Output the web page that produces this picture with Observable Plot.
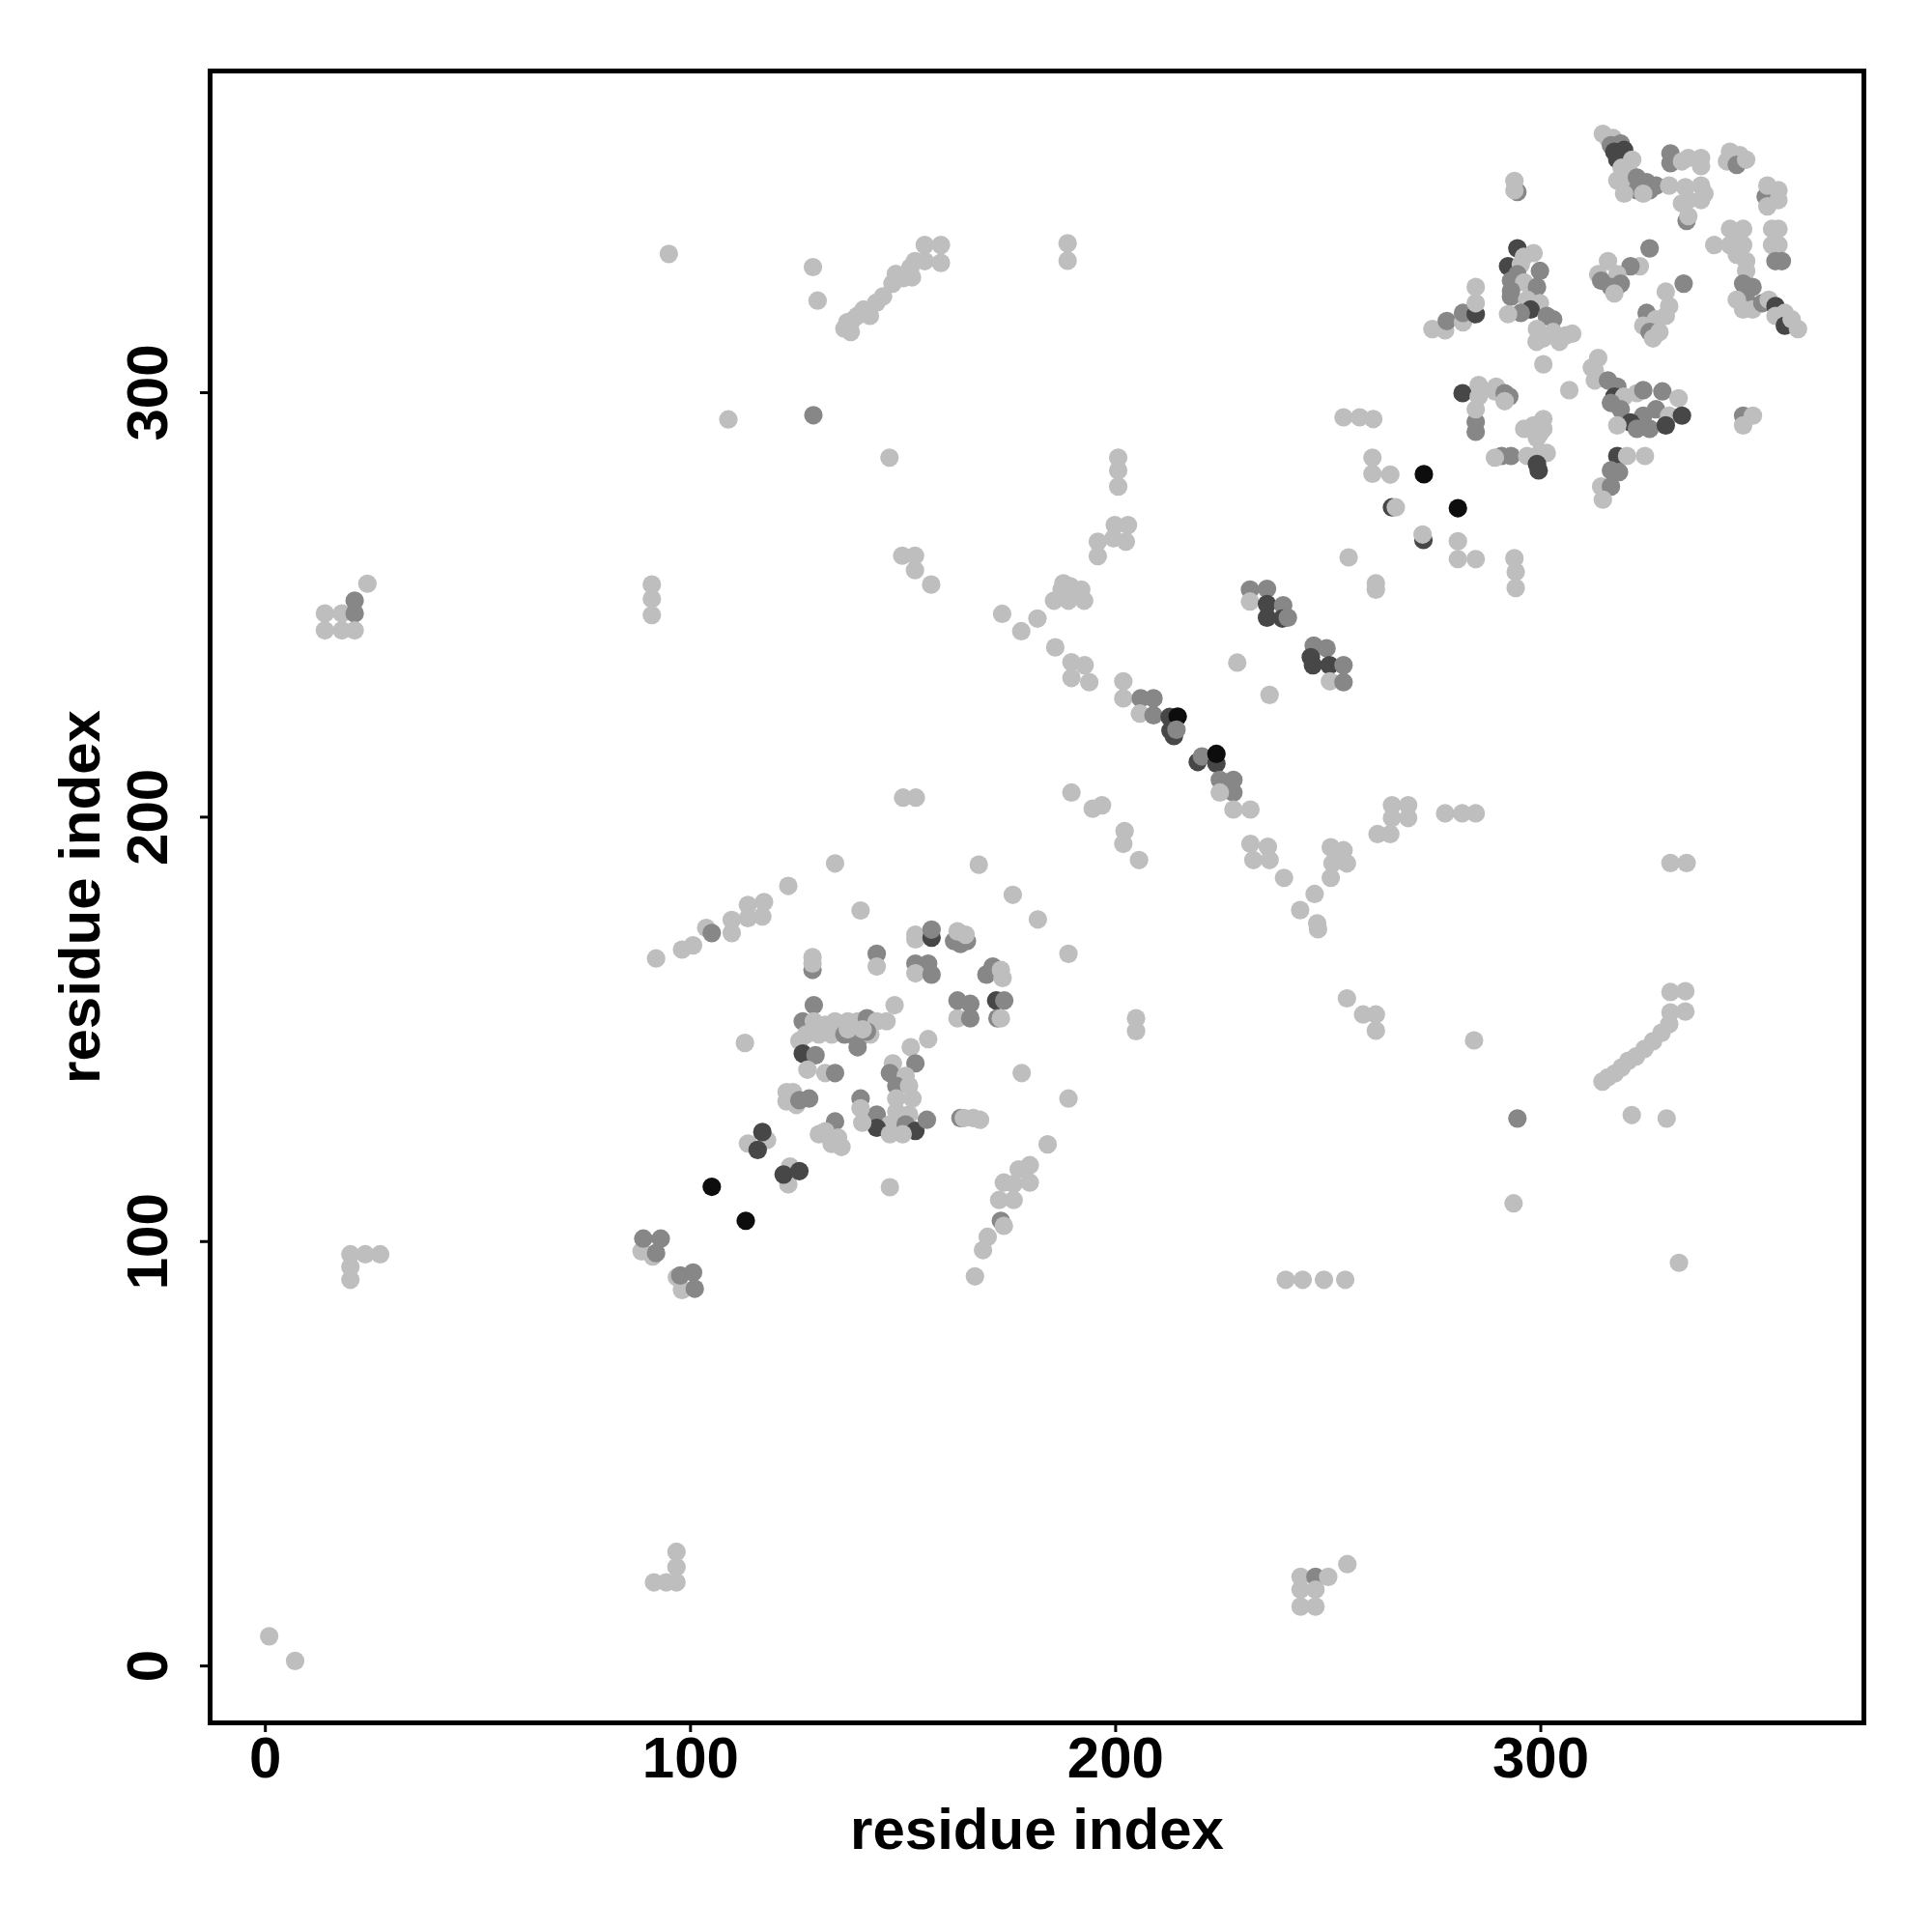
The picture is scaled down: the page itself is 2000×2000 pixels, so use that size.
<!DOCTYPE html>
<html><head><meta charset="utf-8">
<script src="https://cdn.jsdelivr.net/npm/d3@7"></script>
<script src="https://cdn.jsdelivr.net/npm/@observablehq/plot@0.6"></script>
<style>body{margin:0;background:#fff}</style>
</head><body><div id="chart"></div>
<script>
// [residue i, residue j, contact level (1 light .. 4 black)]
const contactsLeft = [
[0.9,7,1],[7,1.2,1],
[14,248,1],[18,248,1],[21,248,2],[14,244,1],[18,244,1],[21,244,1],[21,251,2],[24,255,1],
[20,97,1],[23.5,97,1],[27,97,1],[20,94,1],[20,91,1]
];
const contactsBand90 = [
[91.4,19.7,1],[94.3,19.7,1],[96.7,19.7,1],[96.7,23.3,1],[96.7,26.9,1],
[88.5,97.7,1],[91.1,96.5,1],[88.9,100.7,2],[93,100.7,2],[91.9,97.3,2],
[96.8,91.6,1],[98,88.6,1],[97.6,92,2],[100.6,92.7,2],[101,88.9,2],
[90.9,254.8,1],[90.9,251.4,1],[90.9,247.6,1],
[94.9,332.7,1],[108.9,293.7,1]
];
const contactsLowerCluster = [
[105,112.9,4],[113,104.9,4],
[113.5,123.1,1],[118,123.9,1],[116.9,125.8,3],[115.8,121.6,3],
[123.4,117.7,1],[123,113.5,1],[121.9,115.8,3],[125.6,116.6,3],
[91.9,166.7,1],[98,168.8,1],[100.6,169.8,1],[103.7,173.9,1],[105,172.7,2],[109.7,172.7,1],[109.7,175.8,1],[113.5,176.2,1],[113.5,179.3,1],[116.9,176.6,1],[117.3,180,1],[123,183.8,1],[134,189.1,1],[140,178,1],[112.8,146.8,1],
[128.7,164,2],[128.7,167,1],[128.7,165.5,1],
[143.8,167.8,2],[143.8,164.8,1],
[152.9,172.3,1],[152.9,171.2,1],[156.7,171.6,3],[156.7,173.5,2],
[162,170.8,2],[165,170.8,2],[163.5,170.1,2],[162.8,173.1,1],[164.7,172.3,1],
[152.9,165.5,2],[155.9,165.5,2],[152.9,163.2,1],[156.7,162.9,2],
[169.6,162.9,2],[171.1,164.8,2],[173,164,1],[173.4,162.1,1],
[162.8,152.6,1],[162.8,156.8,2],[165.8,156,2],[165.8,152.6,2],
[171.9,156.8,3],[173.8,156.8,2],[172.2,152.6,2],[173,152.6,1],
[148,155.7,1],[155.9,147.7,1],[151.8,145.8,1],
[129,155.7,2],[126.4,151.9,2],[129,151.9,1],[131.7,151.1,1],[134,151.9,1],[137,151.9,1],[139.3,151.9,1],[141.5,152.6,2],[143.8,151.9,1],[146.1,151.9,1],
[125.6,147.3,1],[127.2,148.8,1],[130.2,148.8,1],[133.2,148.8,1],[136.2,148.8,2],[139.3,147.3,2],[142.3,148.8,1],[139.3,145.8,2],[141.5,149.5,2],[140.5,150,1],[137,150,1],
[126.4,144.3,3],[129.4,143.9,2],[127.5,140.5,1],[131.7,139.7,1],[134,139.7,2],
[152.9,142,2],[147.6,142,1],[146.9,139.7,2],[150.6,139,1],[148.4,136.7,2],[151.4,136.7,1],[152.2,133.7,1],[148.4,133.7,1],[148.4,130.6,1],[151.4,129.9,1],
[143.8,129.9,2],[146.9,127.6,1],[143.8,126.8,3],[150.6,127.6,2],[152.9,126.1,3],[155.6,128.7,2],[149.9,125.3,1],[146.9,125.3,1],[140.4,128,1],[140,133.7,2],[140,131.4,1],
[124.1,135.2,1],[122.6,135.2,1],[122.6,133,1],[124.9,132.2,1],[127.9,133.7,2],[125.6,133.3,2],
[134,128.3,2],[131.7,126,1],[134.7,124.5,1],[135.5,122.3,1],[133.2,123,1],[130.2,125.3,1],
[163.5,129.1,2],[164.3,129.1,1],[166.5,129.1,1],[168.1,128.7,1],
[146.9,112.8,1],[177.9,139.7,1],[188.9,133.7,1],[204.8,152.6,1],[204.8,149.6,1],
[167.8,188.8,1],[175.8,181.7,1],[181.7,175.9,1],[188.9,167.8,1],[184,122.9,1],
[179.8,118,1],[177.2,117,1],[179.8,113.9,1],[176,113.6,1],[173.7,113.9,1],[172.6,109.8,1],[176,109.8,1],[173,104.9,2],[173.7,103.7,1],[169.9,101.1,1],[168.8,98,1],[166.9,91.8,1]
];
const contactsCentral = [
[195.8,264.9,1],[199.5,265.7,1],[202.4,264.9,1],[195.8,261.5,1],[199.8,268.8,1],[202.9,268.8,1],
[200.6,284.7,1],[200.6,281.7,1],[200.6,277.9,1],
[149.8,261.6,1],[152.8,261.6,1],[152.8,258.2,1],[156.6,254.8,1],
[128.8,329.6,1],[129.9,321.7,1],[128.9,294.7,2],[146.8,284.7,1],
[136.2,315.1,1],[136.9,316.6,1],[137.7,314.3,1],[138,317,1],[139.2,318.1,1],[140.7,319.6,1],[142.2,318.1,1],[143.7,321.2,1],[145.3,322.7,1],[147.5,325.7,1],[148.3,328,1],[150,327,1],[151.7,329.5,1],[152.1,327.2,1],[152.8,331,1],[155.1,334.8,1],[155.1,331,1],[158.9,334.8,1],[158.9,330.6,1],
[188.7,335.2,1],[188.7,331.1,1],
[187.7,255.1,1],[189.3,254.4,1],[191.9,253.6,1],[185.5,251,1],[188.9,251,1],[192.6,251,1],[187.3,253.6,1],
[173.3,247.9,1],[177.8,243.8,1],[181.6,246.8,1],[185.8,240,1],
[189.6,236.5,1],[192.7,235.8,1],[189.6,232.8,1],[193.8,231.8,1],
[201.8,232,1],[201.8,228,1],[205.9,228,2],[208.9,228,2],[205.7,224.4,1],[208.9,224,2],[212.7,223.6,3],[214.6,223.7,4],[212.9,220.4,3],[213.7,219.1,3],[214.3,220.6,2],
[219.3,213,3],[220.3,214.3,2],[223.7,212.6,3],[223.7,214.9,4],[224.5,208.8,2],[227.7,208.8,2],[227.7,205.8,2],[224.5,205.8,1],[227.7,201.8,1],[231.7,201.8,1],
[228.6,236.4,1],[236.2,228.8,1],
[231.6,253.6,2],[235.6,253.8,2],[231.6,250.8,1],[235.6,250.2,3],[239.4,249.9,2],[235.6,247,3],[239.2,246.8,3],[240.5,247,2],
[246.6,240.4,2],[249.6,239.8,2],[245.9,237.7,3],[246.4,235.8,3],[250.3,235.8,3],[253.6,235.8,2],[250.4,232,1],[253.6,231.8,2],
[189.6,205.8,1],[194.6,202,1],[196.8,202.8,1],
[202.1,196.7,1],[201.8,193.7,1],[205.5,189.9,1],
[231.7,193.7,1],[235.8,193,1],[232.4,189.9,1],[236.2,189.9,1],[239.6,185.7,1],
[250.6,192.9,1],[253.6,192.2,1],[254.4,189.1,1],[251,189.1,1],[250.6,185.7,1],
[246.8,181.9,1],[243.4,178.1,1],[247.6,173.6,1],[247.4,175,1],
[254.4,157.3,1],[258.2,153.5,1],[261.2,153.5,1],[261.2,149.7,1],
[284.3,147.4,1],
[150,204.6,1],[153,204.6,1],
[265,202.8,1],[268.8,202.8,1],[265,199.8,1],[268.8,199.8,1],[261.6,196,1],[264.6,196,1],
[277.5,200.9,1],[281.5,200.9,1],[284.7,200.9,1],
[240,91,1],[244,91,1],[249,91,1],[254,91,1],
[243.5,21,1],[243.5,18,1],[243.5,14,1],[247,21,2],[247,18,1],[247,14,1],[250,21,1],[254.5,24,1]
];
const contactsRightLower = [
[293.6,109,1],[294.5,129,2],[321.4,129.8,1],[329.6,129,1],[332.5,95,1],
[330.5,189.2,1],[334.3,189.2,1],
[314.5,137.7,1],[315.8,138.7,1],[317.4,139.6,1],[319,141,1],[320.6,142.6,1],[322.4,143.6,1],[324.4,145.4,1],[326.4,147.2,1],[328.4,149.2,1],[330.2,151.2,1],[330.5,154,1],[334,154.2,1],[330.5,158.8,1],[334,159,1]
];
const contactsUpperMid = [
[253.6,294.2,1],[257.4,294.2,1],[260.6,293.8,1],
[260.4,284.7,1],[260.4,280.9,1],[264.6,280.7,1],[272.5,280.8,4],
[265,273,3],[265.9,273,1],[280.5,272.8,4],
[272.4,265.3,3],[272.2,266.6,1],
[280.5,265,1],[280.5,260.8,1],[284.7,260.8,1],
[293.8,261,1],[294.1,257.8,1],[294.1,254,1],
[254.8,261.2,1],[261.2,255.1,1],[261.2,253.6,1],
[281.6,299.9,3],[285.4,301.8,1],[285.4,299.1,1],[289.2,300.3,1],[289.5,301.4,1],[291.5,299.9,2],[292.6,299.1,2],[291.5,298,1],
[284.7,293.1,2],[284.7,290.8,2],[284.7,296.1,1],
[290.8,285.1,2],[293,285.1,2],[289.2,284.7,1],[296.8,285.1,1],[299.8,285.8,1],[301.4,285.8,1],[299.1,283.2,3],[299.5,281.7,3],
[298.3,292.3,1],[300.6,291.5,1],[299.1,289.3,1],[296.1,291.5,1],[299.8,290.4,1],[300.6,293.8,1],
[300.6,306.7,1],[306.7,300.6,1],[299,312,1],
[294.5,347.3,2],[293.8,349.9,1],[293.8,347.7,1],
[274.5,315,1],[277.5,314.7,1],[277.9,316.9,2],[281.7,316.6,1],[281.7,318.8,2],[284.7,318.5,3],[284.7,321.1,1],[284.7,324.9,1]
];
const contactsUpperRight = [
[294.5,334,3],[292.3,329.8,3],[298.3,332.9,1],[295.3,330.2,1],[296,332,1],[299.8,328.7,2],[294.5,327.9,2],[293,326.4,2],[296.1,326,1],[299.1,324.9,2],[293,324,2],[293,322.6,2],[296.8,321.9,1],[299.8,321.1,1],[297.6,319.6,3],[295.3,318.8,2],[292.3,318.5,1],[301.4,318.1,2],[302.9,317.3,2],[299.1,315,1],[302.9,314.3,1],[305.9,313.5,1],[307.4,313.9,1],[304.4,312,1],[300.6,312.8,1],
[314.6,361,1],[315.8,359.8,1],[317,360,1],[316.5,358.3,2],[318.8,358.7,2],[317.3,356.8,3],[318,355,3],[319.6,357.2,3],[321.5,354.9,1],[319,353,1],
[330.5,356.4,2],[330.5,354.1,2],[333.2,354.5,1],[334.7,355.3,1],[337.7,355.3,1],[337.7,353.4,1],
[343.8,354.5,1],[344.5,356.8,1],[346.8,356,1],[346.1,353.7,2],[348.3,354.9,1],
[318,350,1],[320.3,349.2,1],[321.1,351.5,1],[322.6,350.7,2],[324.9,349.6,2],[327.1,348.8,2],[325.6,347.7,2],[322.6,347.7,2],[319.6,346.9,1],[324.1,346.9,1],
[330.2,348.8,1],[334,348.4,1],[337.7,348.8,1],[338.5,346.9,1],[333.2,344.6,1],[334.7,345.4,1],[337.7,345.4,1],[334.3,340.5,2],[334.7,341.6,1],
[352.9,346.2,2],[353.3,348.8,1],[355.9,347.7,1],[355.9,345.4,1],[353.3,343.9,1],
[344.5,338.6,1],[347.6,338.6,1],[346.1,337,1],[354.4,338.6,1],[355.9,338.6,1],[340.8,334.8,1],[344.5,334.8,1],[347.6,334.8,1],[354.4,334.8,1],[355.9,334.8,1],[346.1,332.5,1],[348.3,331,1],[355.2,331,2],[356.7,331,2],[348.3,328.7,1],
[347.6,325.7,2],[349.8,324.9,2],[348.3,321.9,2],[346.1,321.9,1],[347.6,319.6,1],[349.8,319.6,1],[352.1,321.1,2],[353.6,321.9,1],[355.2,320.4,3],[355.9,318.8,3],[357.4,318.8,1],[355.2,318.1,1],[357.4,315.8,3],[359,317.3,1],[360.5,315,1],
[325.6,334,2],[323.3,329.8,1],[321.1,329.8,2],[318,327.9,1],[315.8,331,1],[313.5,327.9,1],[314.2,326.4,2],[316.5,324.9,2],[318.8,325.7,2],[317.3,323.4,1],
[333.6,325.7,2],[329.4,323.8,1],[330.2,320.4,1],[324.9,318.8,2],[329.4,318.1,1],[327.1,317.3,1],[324.1,315.8,1],[325.6,314.3,2],[327.9,314.3,1],[326.4,312.8,1],
[313.5,308.2,1],[312,305.9,1],[312.7,305.2,1],[312.7,302.9,1],[315.8,302.9,2],[318,301.4,2],[317.3,299.1,3],[319.6,299.1,1],[316.5,297.6,2],[318.8,296.1,2],[322.6,299.9,1],[324.1,300.6,2],[328.6,300.3,2],[332.4,298.7,1],[327.1,296.1,2],[324.1,294.6,2],[321.1,293,3],[330.2,294.6,1],[318,292.3,1],[322.6,291.5,2],[325.6,291.5,2],[329.4,292.3,3],[333.2,294.6,3],
[318,285.1,3],[320.3,285.1,1],[324.5,285.1,1],[316.5,281.7,2],[318.4,281.3,2],[314.2,277.9,1],[316.5,277.9,2],[314.6,274.8,1],
[347.6,294.6,2],[349.9,294.6,1],[347.6,292.3,1]
];
const xTicks = [0, 100, 200, 300];
const yTicks = [0, 100, 200, 300];
const levelColors = ["#bebebe", "#878787", "#474747", "#0d0d0d"];
const axisTitle = "residue index";

const contacts = [].concat(contactsLeft, contactsBand90, contactsLowerCluster, contactsCentral, contactsRightLower, contactsUpperMid, contactsUpperRight);

const chart = Plot.plot({
  width: 2000, height: 2000,
  marginLeft: 217, marginRight: 71, marginTop: 73, marginBottom: 217,
  x: {domain: [-13, 376]},
  y: {domain: [-13.4, 375.8]},
  color: {type: "ordinal", domain: [1, 2, 3, 4], range: levelColors},
  style: {fontFamily: "'Liberation Sans', Arial, Helvetica, sans-serif", fontWeight: "bold", background: "#fff", color: "#000"},
  marks: [
    Plot.dot(contacts, {x: d => d[0], y: d => d[1], fill: d => d[2], r: 9.6, stroke: null}),
    Plot.frame({stroke: "#000", strokeWidth: 5}),
    Plot.axisX({ticks: xTicks, tickSize: 10, tickPadding: 4, strokeWidth: 3, fontSize: 60, fontWeight: "bold",
      label: axisTitle, labelAnchor: "center", labelOffset: 130, labelArrow: "none"}),
    Plot.axisY({ticks: yTicks, tickSize: 10, tickPadding: 35, tickRotate: -90, strokeWidth: 3, fontSize: 60, fontWeight: "bold",
      label: axisTitle, labelAnchor: "center", labelOffset: 157, labelArrow: "none"})
  ]
});
document.getElementById("chart").appendChild(chart);
</script>
</body></html>
